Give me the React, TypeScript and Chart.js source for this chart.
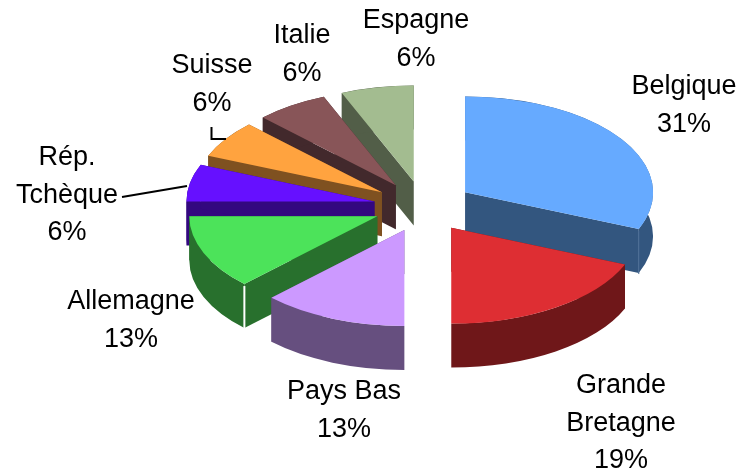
import React, { useEffect, useRef } from "react";
import { Chart, registerables } from "chart.js";

Chart.register(...registerables);

const categories = ["Belgique", "Grande Bretagne", "Pays Bas", "Allemagne", "Rép. Tchèque", "Suisse", "Italie", "Espagne"];
const values = [5, 3, 2, 2, 1, 1, 1, 1];
const topColors = ["#66AAFF", "#DE2E33", "#CC99FF", "#4CE35A", "#6610FF", "#FFA33F", "#885558", "#A3BC90"];
const wallColors = ["#33567F", "#6F1719", "#664F7F", "#28702D", "#33087F", "#7F5120", "#42292C", "#525E48"];
const cornerColors = ["#4A6C96", null, null, "#FFFFFF", null, null, null, null];
const paintOrder = [7, 6, 5, 4, 3, 0, 1, 2];

const labelLines = [
  ["Belgique"],
  ["Grande", "Bretagne"],
  ["Pays Bas"],
  ["Allemagne"],
  ["Rép.", "Tchèque"],
  ["Suisse"],
  ["Italie"],
  ["Espagne"],
];
const labelX = [684, 621, 344, 131, 67, 212, 302, 416];
const labelY = [87, 386, 392, 302, 158, 66, 36, 21];
const lineStep = 37.5;

const EXPLODE = 50;
const RADIUS = 188;
const TILT = 0.51;
const DEPTH = 44;
const FONT = "27px 'Liberation Sans', Arial, sans-serif";

const pie3d = {
  id: "pie3d",
  afterDatasetUpdate(chart: any) {
    const arcs = chart.getDatasetMeta(0).data;
    arcs.forEach((arc: any) => {
      const mid = (arc.startAngle + arc.endAngle) / 2;
      arc.x += Math.cos(mid) * EXPLODE;
      arc.y += Math.sin(mid) * EXPLODE;
    });
  },
  beforeDatasetsDraw(chart: any) {
    const { ctx, chartArea } = chart;
    const cy = (chartArea.top + chartArea.bottom) / 2;
    const arcs = chart.getDatasetMeta(0).data;
    const mapY = (y: number) => cy + (y - cy) * TILT;
    paintOrder.forEach((i) => {
      const arc = arcs[i];
      const x = arc.x;
      const y = mapY(arc.y);
      const r = arc.outerRadius;
      const ry = r * TILT;
      const s = arc.startAngle;
      const e = arc.endAngle;
      ctx.save();
      ctx.fillStyle = wallColors[i];
      // cut faces
      [s, e].forEach((a) => {
        const px = x + Math.cos(a) * r;
        const py = y + Math.sin(a) * ry;
        ctx.beginPath();
        ctx.moveTo(x, y);
        ctx.lineTo(px, py);
        ctx.lineTo(px, py + DEPTH);
        ctx.lineTo(x, y + DEPTH);
        ctx.closePath();
        ctx.fill();
      });
      // outer rim
      ctx.beginPath();
      ctx.ellipse(x, y, r, ry, 0, s, e);
      ctx.ellipse(x, y + DEPTH, r, ry, 0, e, s, true);
      ctx.closePath();
      ctx.fill();
      // corner edge between the cut face and the rim
      const corner = cornerColors[i];
      if (corner) {
        const a = i === 0 ? e : s;
        const px = x + Math.cos(a) * r;
        const py = y + Math.sin(a) * ry;
        ctx.strokeStyle = corner;
        ctx.lineWidth = i === 0 ? 1 : 2;
        ctx.beginPath();
        ctx.moveTo(px, py + 2);
        ctx.lineTo(px, py + DEPTH + 1);
        ctx.stroke();
      }
      ctx.restore();
    });
    ctx.save();
    ctx.translate(0, cy);
    ctx.scale(1, TILT);
    ctx.translate(0, -cy);
  },
  afterDatasetsDraw(chart: any) {
    chart.ctx.restore();
  },
  afterDraw(chart: any) {
    const { ctx } = chart;
    const total = values.reduce((a, b) => a + b, 0);
    ctx.save();
    ctx.fillStyle = "#000000";
    ctx.font = FONT;
    ctx.textAlign = "center";
    ctx.textBaseline = "middle";
    categories.forEach((_, i) => {
      const lines = [...labelLines[i], `${Math.round((values[i] / total) * 100)}%`];
      lines.forEach((line, j) => ctx.fillText(line, labelX[i], labelY[i] + j * lineStep));
    });
    ctx.strokeStyle = "#000000";
    ctx.lineWidth = 2;
    ctx.beginPath();
    ctx.moveTo(122, 197);
    ctx.lineTo(187, 186);
    ctx.moveTo(211.5, 127);
    ctx.lineTo(211.5, 139);
    ctx.lineTo(226, 139);
    ctx.stroke();
    ctx.restore();
  },
};

export default function App() {
  const ref = useRef<HTMLCanvasElement | null>(null);
  useEffect(() => {
    const chart = new Chart(ref.current as HTMLCanvasElement, {
      type: "pie",
      data: {
        labels: categories,
        datasets: [
          {
            data: values,
            backgroundColor: topColors,
            borderWidth: 0,
            clip: false,
          } as any,
        ],
      },
      options: {
        responsive: false,
        animation: false,
        radius: RADIUS,
        layout: { padding: { left: 108, right: 0, top: 0, bottom: 59 } },
        plugins: { legend: { display: false }, tooltip: { enabled: false } },
      } as any,
      plugins: [pie3d as any],
    });
    return () => chart.destroy();
  }, []);
  return (
    <canvas
      ref={ref}
      width={739}
      height={472}
      style={{ position: "absolute", left: 0, top: 0, width: 739, height: 472, background: "#fff" }}
    />
  );
}
